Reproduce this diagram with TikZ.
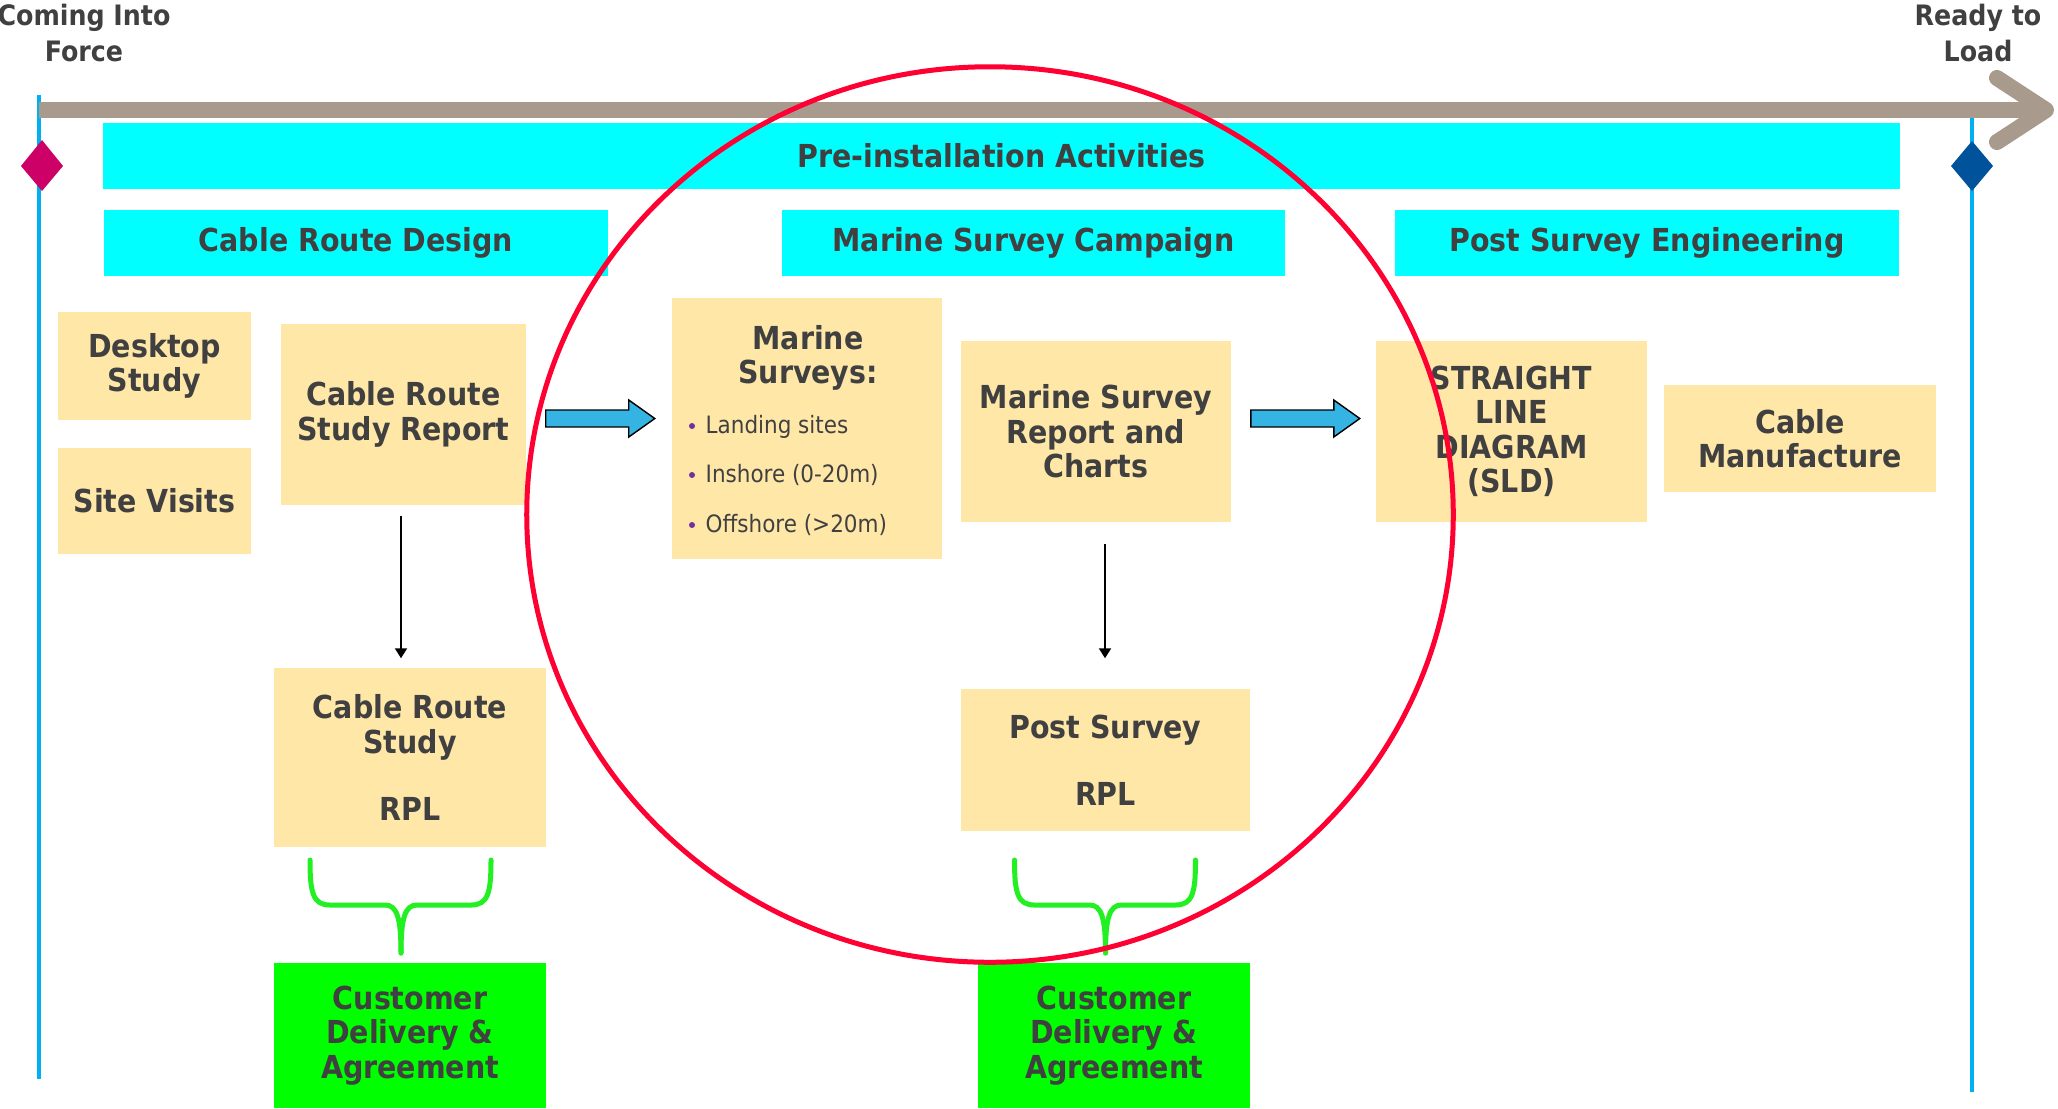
\documentclass[tikz,border=0pt]{standalone}
\usepackage{fontspec}
\setmainfont{DejaVu Sans Condensed}
\usetikzlibrary{calc,arrows.meta}
\definecolor{txt}{HTML}{404040}
\definecolor{bandc}{HTML}{00FFFF}
\definecolor{notec}{HTML}{FFE7A8}
\definecolor{okc}{HTML}{00FF00}
\definecolor{bracec}{HTML}{22F022}
\definecolor{ringc}{HTML}{FF0033}
\definecolor{flowc}{HTML}{35B4E4}
\definecolor{axisc}{HTML}{A89B8E}
\definecolor{railc}{HTML}{00B0F0}
\definecolor{startc}{HTML}{CC0066}
\definecolor{endc}{HTML}{00529B}
\definecolor{dotc}{HTML}{7030A0}
\begin{document}
\begin{tikzpicture}[x=0.01cm,y=-0.01cm,
  every node/.style={text=txt, inner sep=0pt, align=center,
    font=\fontsize{9}{9.8}\selectfont\bfseries},
  bandbox/.style={fill=bandc, minimum height=0.66cm},
  notebox/.style={fill=notec},
  okbox/.style={fill=okc},
  bullettext/.style={anchor=base west, font=\fontsize{6.8}{8}\selectfont},
  milestone/.style={font=\fontsize{8}{10.4}\selectfont\bfseries},
  flowarrow/.style={fill=flowc, draw=black, line width=0.4pt, line join=miter},
  thinarrow/.style={draw=black, line width=0.55pt, -{Triangle[length=0.1cm,width=0.12cm]}},
  bracestyle/.style={draw=bracec, line width=0.05cm, line cap=round},
  bracepic/.pic={
    \draw[bracestyle] (-91,0) .. controls (-91,33) and (-88,45) .. (-71,45) -- (-16,45)
      .. controls (-4,45) and (0,58) .. (0,93);
    \draw[bracestyle] (90,0) .. controls (90,33) and (87,45) .. (70,45) -- (16,45)
      .. controls (4,45) and (0,58) .. (0,93);
  }
]
\useasboundingbox (0,0) rectangle (2058,1108);

% milestone labels
\node[milestone] (cif) at (84,33) {Coming Into\\Force};
\node[milestone] (rtl) at (1978,33) {Ready to\\Load};

% rails
\draw[railc, line width=0.035cm] (39,95) -- (39,1079);
\draw[railc, line width=0.035cm] (1972,112) -- (1972,1092);

% time axis
\draw[axisc, line width=0.16cm] (39,110) -- (2046,110);
\draw[axisc, line width=0.16cm, line cap=round, line join=round] (1997,78) -- (2046,110) -- (1997,142);

% milestones
\fill[startc] (42,140) -- (63,166) -- (42,191) -- (21,166) -- cycle;
\fill[endc] (1972,141) -- (1993,166) -- (1972,191) -- (1951,166) -- cycle;

% bands
\node[bandbox, minimum width=17.95cm] (pre) at (1001.5,156) {Pre-installation Activities};
\node[bandbox, minimum width=5.04cm] (crd) at (356,243) {Cable Route Design};
\node[bandbox, minimum width=5.03cm] (msc) at (1033.5,243) {Marine Survey Campaign};
\node[bandbox, minimum width=5.04cm] (pse) at (1647,243) {Post Survey Engineering};

% note boxes
\node[notebox, minimum width=1.93cm, minimum height=1.08cm] (desk) at (154.5,366) {Desktop\\Study};
\node[notebox, minimum width=1.93cm, minimum height=1.06cm] (site) at (154.5,501) {Site Visits};
\node[notebox, minimum width=2.45cm, minimum height=1.81cm] (crsr) at (403.5,414.5) {Cable Route\\Study Report};
\node[notebox, minimum width=2.70cm, minimum height=2.61cm] (ms) at (807,428.5) {};
\node (mstitle) at (808,358) {Marine\\Surveys:};
\node[bullettext] (b1) at (705,433) {Landing sites};
\node[bullettext] (b2) at (705,482) {Inshore (0-20m)};
\node[bullettext] (b3) at (705,532) {Offshore (>20m)};
\fill[dotc] (692,426) circle [radius=0.03cm];
\fill[dotc] (692,475) circle [radius=0.03cm];
\fill[dotc] (692,525) circle [radius=0.03cm];
\node[notebox, minimum width=2.70cm, minimum height=1.81cm] (msrc) at (1096,431.5) {Marine Survey\\Report and\\Charts};
\node[notebox, minimum width=2.71cm, minimum height=1.81cm] (sld) at (1511.5,431.5) {STRAIGHT\\LINE\\DIAGRAM\\(SLD)};
\node[notebox, minimum width=2.72cm, minimum height=1.07cm] (cm) at (1800,438.5) {Cable\\Manufacture};
\node[notebox, minimum width=2.72cm, minimum height=1.79cm] (rpl1) at (410,757.5) {Cable Route\\Study\\[9.4pt]RPL};
\node[notebox, minimum width=2.89cm, minimum height=1.42cm] (rpl2) at (1105.5,760) {Post Survey\\[9.4pt]RPL};
\node[okbox, minimum width=2.72cm, minimum height=1.45cm] (cda1) at (410,1035.5) {Customer\\Delivery \&\\Agreement};
\node[okbox, minimum width=2.72cm, minimum height=1.45cm] (cda2) at (1114,1035.5) {Customer\\Delivery \&\\Agreement};

% thin arrows
\draw[thinarrow] ($(crsr.south)+(-2.5,10)$) -- ($(crsr.south |- rpl1.north)+(-2.5,-9)$);
\draw[thinarrow] ($(msrc.south)+(9,21)$) -- ($(msrc.south |- rpl2.north)+(9,-30)$);

% block arrows
\coordinate (fa1) at ($(crsr.east |- 0,418.5)+(19,0)$);
\coordinate (fa2) at ($(msrc.east |- 0,418.5)+(19,0)$);
\foreach \s in {fa1,fa2}{
  \draw[flowarrow, shift={(\s)}] (0,-8.5) -- (83,-8.5) -- (83,-18.5) -- (109,0) -- (83,18.5) -- (83,8.5) -- (0,8.5) -- cycle;
}

% braces
\pic at (401,860) {bracepic};
\pic at (1105.5,860) {bracepic};

% focus ring
\draw[ringc, line width=0.05cm] (990,514.5) ellipse [x radius=4.63cm, y radius=4.475cm];
\end{tikzpicture}
\end{document}
